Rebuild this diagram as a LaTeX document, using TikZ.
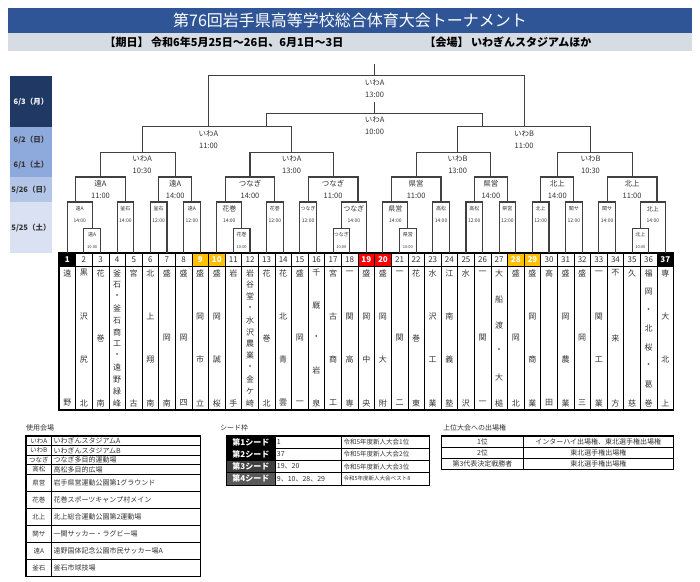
\documentclass[tikz,border=0pt]{standalone}
\usepackage{fontspec}
\setmainfont{Noto Sans CJK JP}
\usepackage{xcolor}
\usetikzlibrary{positioning, calc}

\definecolor{TitleBlue}{HTML}{2F5597}
\definecolor{BandGray}{HTML}{D6DCE4}
\definecolor{DayNavy}{HTML}{1F3864}
\definecolor{DayMid}{HTML}{8EA9DB}
\definecolor{DayLight}{HTML}{B4C6E7}
\definecolor{DayPale}{HTML}{D9E1F2}
\definecolor{SeedGold}{HTML}{FFC000}
\definecolor{SeedRed}{HTML}{FF0000}
\definecolor{SeedDark}{HTML}{3F3F3F}
\definecolor{SeedGray}{HTML}{595959}
\definecolor{LineGray}{HTML}{404040}
\definecolor{TextGray}{HTML}{333333}

% x of a team column (half steps give the borders)
\newcommand{\colx}[1]{59+(#1-0.5)*16.61}
\newcommand{\fsz}[1]{\fontsize{#1}{#1}\selectfont}

\tikzstyle{Bracket} = [line width=1.1pt, draw=LineGray]
\tikzstyle{Num} = [draw=black, line width=0.6pt, minimum width=16.61pt,
minimum height=13pt, inner sep=0pt, font=\fsz{8}, text=TextGray]
\tikzstyle{Column} = [draw=black, line width=0.6pt]
\tikzstyle{Name} = [inner sep=0pt, font=\fsz{8}, text=TextGray]
\tikzstyle{Venue} = [inner sep=0pt, font=\fsz{7.5}, text=TextGray]
\tikzstyle{Big} = [inner sep=0pt, font=\fsz{7}, text=TextGray]
\tikzstyle{Mid} = [inner sep=0pt, font=\fsz{6}, text=TextGray]
\tikzstyle{Tiny} = [inner sep=0pt, font=\fsz{5}, text=TextGray]
\tikzstyle{Wee} = [inner sep=0pt, font=\fsz{4}, text=TextGray]
\tikzstyle{Day} = [inner sep=0pt, minimum width=42pt, minimum height=25pt,
font=\bfseries\fsz{7.5}, text=TextGray]
\tikzstyle{Cell} = [draw=black, line width=0.6pt, inner sep=0pt,
font=\fsz{7}, text=TextGray]
\tikzstyle{Caption} = [anchor=west, inner sep=0pt, font=\fsz{7}, text=TextGray]

\begin{document}
\begin{tikzpicture}[x=1pt, y=-1pt]
    \useasboundingbox (0,0) rectangle (700,581);

    % header
    \node [fill=TitleBlue, text=white, minimum width=684pt, minimum height=25pt,
        inner sep=0pt, font=\fsz{16}] (title) at (350,20.5)
        {第76回岩手県高等学校総合体育大会トーナメント};
    \node [fill=BandGray, minimum width=684pt, minimum height=18pt, inner sep=0pt]
        (band) at (350,42) {};
    \node [inner sep=0pt, font=\bfseries\fsz{11}] (kijitsu) at (224,42)
        {【期日】 令和6年5月25日～26日、6月1日～3日};
    \node [inner sep=0pt, font=\bfseries\fsz{11}] (kaijo) at (508,42)
        {【会場】 いわぎんスタジアムほか};

    % days
    \node [Day, fill=DayNavy, text=white, minimum height=51pt] (d63) at (31,101.5) {6/3（月）};
    \node [Day, fill=DayMid] (d62) at (31,139.5) {6/2（日）};
    \node [Day, fill=DayMid] (d61) at (31,164.5) {6/1（土）};
    \node [Day, fill=DayLight] (d526) at (31,189.5) {5/26（日）};
    \node [Day, fill=DayPale, minimum height=51pt] (d525) at (31,227.5) {5/25（土）};

    % teams
    \foreach \i/\tname in {1/{遠,野}, 2/{黒,沢,尻,北}, 3/{花,巻,南},
        4/{釜,石,・,釜,石,商,工,・,遠,野,緑,峰}, 5/{宮,古}, 6/{北,上,翔,南},
        7/{盛,岡,南}, 8/{盛,岡,四}, 9/{盛,岡,市,立}, 10/{盛,岡,誠,桜},
        11/{岩,手}, 12/{岩,谷,堂,・,水,沢,農,業,・,金,ケ,崎}, 13/{花,巻,北},
        14/{花,北,青,雲}, 15/{盛,岡,一}, 16/{千,厩,・,岩,泉}, 17/{宮,古,商,工},
        18/{一,関,高,専}, 19/{盛,岡,中,央}, 20/{盛,岡,大,附}, 21/{一,関,二},
        22/{花,巻,東}, 23/{水,沢,工,業}, 24/{江,南,義,塾}, 25/{水,沢},
        26/{一,関,一}, 27/{大,船,渡,・,大,槌}, 28/{盛,岡,北}, 29/{盛,岡,商,業},
        30/{高,田}, 31/{盛,岡,農,業}, 32/{盛,岡,三}, 33/{一,関,工,業},
        34/{不,来,方}, 35/{久,慈}, 36/{福,岡,・,北,桜,・,葛,巻}, 37/{専,大,北,上}}
    {
        \node [Num] (t\i) at ({\colx{\i}},259.5) {\i};
        \draw [Column] ({\colx{\i}-8.305},266) rectangle ({\colx{\i}+8.305},410);
        \foreach \ch [count=\kk] in \tname {\xdef\nchar{\kk}}
        \foreach \ch [count=\kk] in \tname
            \node [Name] (n\i x\kk) at ({\colx{\i}},{273+(\kk-1)*130/(\nchar-1)}) {\ch};
    }
    \foreach \i/\fc in {1/black, 37/black, 9/SeedGold, 10/SeedGold, 28/SeedGold,
        29/SeedGold, 19/SeedRed, 20/SeedRed}
        \node [Num, fill=\fc, text=white, font=\bfseries\fsz{8}] (t\i) at ({\colx{\i}},259.5) {\i};
    \draw [line width=1.1pt] (t1.north west) rectangle ($(t37.east)+(0,150.5)$);

    % match points
    \foreach \mname/\p/\y in {m23/2.5/228.3, m1112/11.5/228.3, m1718/17.5/228.3,
        m2122/21.5/228.3, m3536/35.5/228.3,
        mA/1.5/202, m45/4.5/202, m67/6.5/202, m89/8.5/202, m10/10.5/202,
        m1314/13.5/202, m1516/15.5/202, m19/18.5/202, m20/20.5/202,
        m2324/23.5/202, m2526/25.5/202, m2728/27.5/202, m2930/29.5/202,
        m3132/31.5/202, m3334/33.5/202, m37/36.5/202,
        r2a/3/177, r2b/7.5/177, r2c/12/177, r2d/17/177,
        r2e/22/177, r2f/26.5/177, r2g/30.5/177, r2h/35/177,
        r3a/5.5/152.3, r3b/14.5/152.3, r3c/24.5/152.3, r3d/32.5/152.3,
        r4a/9.5/126.7, r4ax/13/126.7, r4b/28.5/126.7, r4bx/26/126.7,
        fin/19.5/75.7, champ/19.5/64, thd/19.5/113.3, thdup/19.5/101.7}
        \coordinate (\mname) at ({\colx{\p}},\y);

    % 5/25 first games
    \foreach \mname/\lft/\rgt/\ven in {m23/t2/t3/遠A, m1112/t11/t12/花巻,
        m1718/t17/t18/つなぎ, m2122/t21/t22/県営, m3536/t35/t36/北上}
    {
        \draw [Bracket] (\lft.north) |- (\mname) -| (\rgt.north);
        \node [Tiny] (\mname v) at ($(\mname)+(0,6)$) {\ven};
        \node [Wee] (\mname t) at ($(\mname)+(0,19)$) {10:00};
    }

    % 5/25
    \foreach \mname/\lft/\rgt/\ven/\tim/\sty in {mA/t1.north/m23/遠A/14:00/Tiny,
        m45/t4.north/t5.north/釜石/14:00/Tiny, m67/t6.north/t7.north/釜石/12:00/Tiny,
        m89/t8.north/t9.north/遠A/12:00/Tiny, m10/t10.north/m1112/花巻/14:00/Big,
        m1314/t13.north/t14.north/花巻/12:00/Tiny, m1516/t15.north/t16.north/つなぎ/12:00/Tiny,
        m19/m1718/t19.north/つなぎ/14:00/Big, m20/t20.north/m2122/県営/14:00/Big,
        m2324/t23.north/t24.north/高松/14:00/Tiny, m2526/t25.north/t26.north/高松/12:00/Tiny,
        m2728/t27.north/t28.north/県営/12:00/Tiny, m2930/t29.north/t30.north/北上/12:00/Tiny,
        m3132/t31.north/t32.north/関サ/12:00/Tiny, m3334/t33.north/t34.north/関サ/14:00/Tiny,
        m37/m3536/t37.north/北上/14:00/Mid}
    {
        \draw [Bracket] (\lft) |- (\mname) -| (\rgt);
        \coordinate (\mname c) at ($(\lft)!0.5!(\rgt)$);
        \node [\sty] (\mname v) at ($(\mname c |- \mname)+(0,7)$) {\ven};
        \node [Tiny] (\mname t) at ($(\mname c |- \mname)+(0,19)$) {\tim};
    }

    % 5/26 to 6/3
    \foreach \mname/\lft/\rgt/\ven/\tim in {r2a/mA/m45/遠A/11:00, r2b/m67/m89/遠A/14:00,
        r2c/m10/m1314/つなぎ/14:00, r2d/m1516/m19/つなぎ/11:00,
        r2e/m20/m2324/県営/11:00, r2f/m2526/m2728/県営/14:00,
        r2g/m2930/m3132/北上/14:00, r2h/m3334/m37/北上/11:00,
        r3a/r2a/r2b/いわA/10:30, r3b/r2c/r2d/いわA/13:00,
        r3c/r2e/r2f/いわB/13:00, r3d/r2g/r2h/いわB/10:30,
        r4a/r3a/r3b/いわA/11:00, r4b/r3c/r3d/いわB/11:00,
        fin/r4a/r4b/いわA/13:00, thd/r4ax/r4bx/いわA/10:00}
    {
        \draw [Bracket] (\lft) |- (\mname) -| (\rgt);
        \node [Venue] (\mname v) at ($(\mname)+(0,6.5)$) {\ven};
        \node [Venue] (\mname t) at ($(\mname)+(0,18.7)$) {\tim};
    }
    \draw [Bracket] (champ) -- (fin);
    \draw [Bracket] (thdup) -- (thd);

    % venues
    \node [Caption] (venh) at (26,428) {使用会場};
    \foreach \ven/\full/\y/\h [count=\q] in {いわA/いわぎんスタジアムA/436/9.5,
        いわB/いわぎんスタジアムB/445.5/9.5, つなぎ/つなぎ多目的運動場/455/9.5,
        高松/高松多目的広場/464.5/10, 県営/岩手県営運動公園第1グラウンド/474.5/17,
        花巻/花巻スポーツキャンプ村メイン/491.5/17, 北上/北上総合運動公園第2運動場/508.5/17,
        関サ/一関サッカー・ラグビー場/525.5/17, 遠A/遠野国体記念公園市民サッカー場A/542.5/17,
        釜石/釜石市球技場/559.5/17}
    {
        \node [Cell, font=\fsz{6.5}, minimum width=25.7pt, minimum height=\h pt]
            (va\q) at (38.85,{\y+\h/2}) {\ven};
        \node [Cell, minimum width=148.3pt, minimum height=\h pt]
            (vb\q) at (125.85,{\y+\h/2}) {};
        \node [Caption] (vt\q) at ([xshift=2pt]vb\q.west) {\full};
    }
    \draw [line width=1pt] (va1.north west) rectangle (vb10.south east);

    % seeds
    \node [Caption] (seedh) at (220,428) {シード枠};
    \foreach \sd/\nums/\fc/\note/\ns [count=\q] in {第1シード/1/black/令和5年度新人大会1位/6.5,
        第2シード/37/black/令和5年度新人大会2位/6.5,
        第3シード/19、20/SeedDark/令和5年度新人大会3位/6.5,
        第4シード/9、10、28、29/SeedGray/令和5年度新人大会ベスト8/5.5}
    {
        \node [Cell, fill=\fc, text=white, font=\bfseries\fsz{8}, minimum width=48.3pt,
            minimum height=12.25pt] (sa\q) at (250.85,{436+(\q-0.5)*12.25}) {\sd};
        \node [Cell, minimum width=66.7pt, minimum height=12.25pt]
            (sb\q) at (308.35,{436+(\q-0.5)*12.25}) {};
        \node [Caption] (sn\q) at ([xshift=2pt]sb\q.west) {\nums};
        \node [Cell, minimum width=87.3pt, minimum height=12.25pt]
            (sc\q) at (385.35,{436+(\q-0.5)*12.25}) {};
        \node [Caption, font=\fsz{\ns}] (sd\q) at ([xshift=2pt]sc\q.west) {\note};
    }
    \draw [line width=1pt] (sa1.north west) rectangle (sc4.south east);

    % qualification
    \node [Caption] (qualh) at (443,428) {上位大会への出場権};
    \foreach \rank/\right [count=\q] in {1位/インターハイ出場権、東北選手権出場権,
        2位/東北選手権出場権, 第3代表決定戦勝者/東北選手権出場権}
    {
        \node [Cell, minimum width=81.6pt, minimum height=11pt]
            (qa\q) at (482.5,{436+(\q-0.5)*11}) {\rank};
        \node [Cell, minimum width=150pt, minimum height=11pt]
            (qb\q) at (598.3,{436+(\q-0.5)*11}) {\right};
    }
    \draw [line width=1pt] (qa1.north west) rectangle (qb3.south east);
\end{tikzpicture}
\end{document}
